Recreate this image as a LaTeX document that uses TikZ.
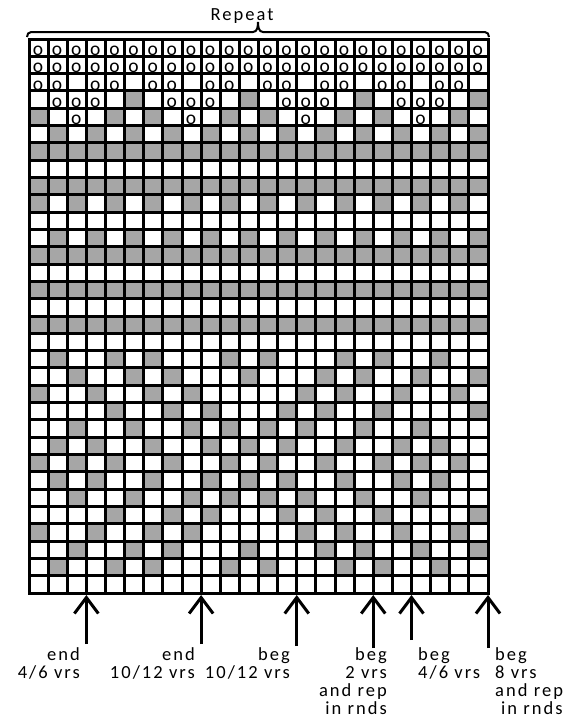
\documentclass[tikz,border=0pt]{standalone}
\usepackage{fontspec}
\usetikzlibrary{arrows.meta}
\newfontfamily\labfont[LetterSpace=11]{Carlito}
\newfontfamily\ofont{Carlito}
\definecolor{cellgray}{RGB}{166,166,166}
\tikzset{
  gl/.style={line width=3pt, black},
  gcell/.style={fill=cellgray},
  omark/.style={font=\ofont\fontsize{19.5}{19.5}\selectfont, inner sep=0pt, anchor=base},
  lab/.style={font=\labfont\fontsize{18.5}{18}\selectfont, inner sep=0pt},
  uparrow/.style={line width=3pt, -{Straight Barb[length=16pt,width=24pt]}},
  bracestyle/.style={line width=2pt},
}
\begin{document}
\begin{tikzpicture}[x=1pt,y=-1pt]
\useasboundingbox (0,0) rectangle (575,720);
\fill[white] (0,0) rectangle (575,720);

\begin{scope}[shift={(29,39)}, x=19.125pt, y=-17.3125pt]
  % gray cells
  \foreach \r/\cs in {
    4/{6,12,18,24},
    5/{1,5,7,11,13,17,19,23},
    6/{2,4,...,24},
    7/{1,...,24},
    9/{1,...,24},
    10/{1,3,...,23},
    12/{2,4,...,24},
    13/{1,...,24},
    15/{1,...,24},
    17/{1,...,24},
    19/{2,5,7,11,13,17,19,22},
    20/{3,6,8,12,16,18,21,24},
    21/{1,4,7,9,15,17,20,23},
    22/{5,8,10,14,16,19,24},
    23/{3,6,9,11,13,15,18,21},
    24/{2,4,7,10,12,14,17,20,22},
    25/{1,3,5,8,11,13,16,19,21,23},
    26/{2,4,7,10,12,14,17,20,22},
    27/{3,6,9,11,13,15,18,21},
    28/{5,8,10,14,16,19,24},
    29/{1,4,7,9,15,17,20,23},
    30/{3,6,8,12,16,18,21,24},
    31/{2,5,7,11,13,17,19,22}}
  {
    \foreach \c in \cs { \fill[gcell] (\c-1,\r-1) rectangle (\c,\r); }
  }
  % o marks
  \foreach \r/\cs in {
    1/{1,...,24},
    2/{1,...,24},
    3/{1,2,4,5,7,8,10,11,13,14,16,17,19,20,22,23},
    4/{2,3,4,8,9,10,14,15,16,20,21,22},
    5/{3,9,15,21}}
  {
    \foreach \c in \cs { \node[omark] (o\r-\c) at (\c-0.53,\r-0.04) {o}; }
  }
  % grid lines
  \foreach \i in {1,...,23} { \draw[gl] (\i,0) -- (\i,32); }
  \foreach \j in {1,...,31} { \draw[gl] (0,\j) -- (24,\j); }
  \draw[gl] (0,0) rectangle (24,32);
\end{scope}

% brace and title
\draw[bracestyle] (27,37) to[out=90,in=180] (31,32) -- (253,32)
  to[out=0,in=-90] (258,22) to[out=-90,in=180] (263,32) -- (485,32)
  to[out=0,in=90] (489,37);
\node[lab, anchor=base] (rep) at (242,20) {Repeat};

% arrows
\coordinate (t1) at (86.375,595);  \coordinate (b1) at (86.375,644);
\coordinate (t2) at (201.125,595); \coordinate (b2) at (201.125,644);
\coordinate (t3) at (296.75,595);  \coordinate (b3) at (296.75,646);
\coordinate (t4) at (373.25,595);  \coordinate (b4) at (373.25,648);
\coordinate (t5) at (411.5,595);   \coordinate (b5) at (411.5,640);
\coordinate (t6) at (488,595);     \coordinate (b6) at (488,648);
\foreach \k in {1,...,6} { \draw[uparrow] (b\k) -- (t\k); }

% labels
\node[lab, align=right, anchor=north east] (l1) at (80,647) {end\\4/6 vrs};
\node[lab, align=right, anchor=north east] (l2) at (195,647) {end\\10/12 vrs};
\node[lab, align=right, anchor=north east] (l3) at (290,647) {beg\\10/12 vrs};
\node[lab, align=right, anchor=north east] (l4) at (387,647) {beg\\2 vrs\\and rep\\in rnds};
\node[lab, align=left, anchor=north west] (l5) at (418,647) {beg\\4/6 vrs};
\node[lab, align=left, anchor=north west] (l6) at (495,647) {beg\\8 vrs\\and rep\\\hspace*{6pt}in rnds};
\end{tikzpicture}
\end{document}
